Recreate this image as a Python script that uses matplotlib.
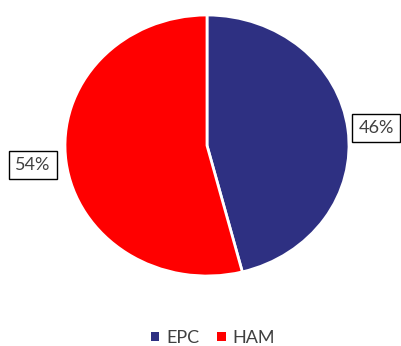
import matplotlib
matplotlib.use("Agg")
import matplotlib.pyplot as plt
from matplotlib.patches import Patch

labels = ["EPC", "HAM"]
values = [46, 54]
colors = ["#2E3082", "#FF0000"]

plt.rcParams["font.family"] = ["Lato", "DejaVu Sans"]
text_color = "#404040"

fig = plt.figure(figsize=(4.02, 3.46), dpi=100)
ax = fig.add_axes([65 / 402, 70 / 346, 284 / 402, 261 / 346])

wedges, _ = ax.pie(values, colors=colors, startangle=90, counterclock=False,
                   wedgeprops=dict(edgecolor="white", linewidth=2))
ax.set_aspect("auto")
ax.set_xlim(-1, 1)
ax.set_ylim(-1, 1)

# labels with boxes
label_pos = [(1.19, 0.134), (-1.225, -0.149)]
for v, (x, y) in zip(values, label_pos):
    ax.text(x, y, f"{v}%", ha="center", va="center", fontsize=13,
            color=text_color, clip_on=False,
            bbox=dict(boxstyle="square,pad=0.35", fc="white", ec="black", lw=1))

handles = [Patch(facecolor=c, edgecolor="none") for c in colors]
fig.legend(handles, labels, loc="center", bbox_to_anchor=(0.53, 1 - 338 / 346),
           ncol=2, frameon=False, fontsize=13, labelcolor=text_color,
           handlelength=0.45, handleheight=0.45, handletextpad=0.4,
           columnspacing=1.0)

fig.savefig("out.png", dpi=100)
